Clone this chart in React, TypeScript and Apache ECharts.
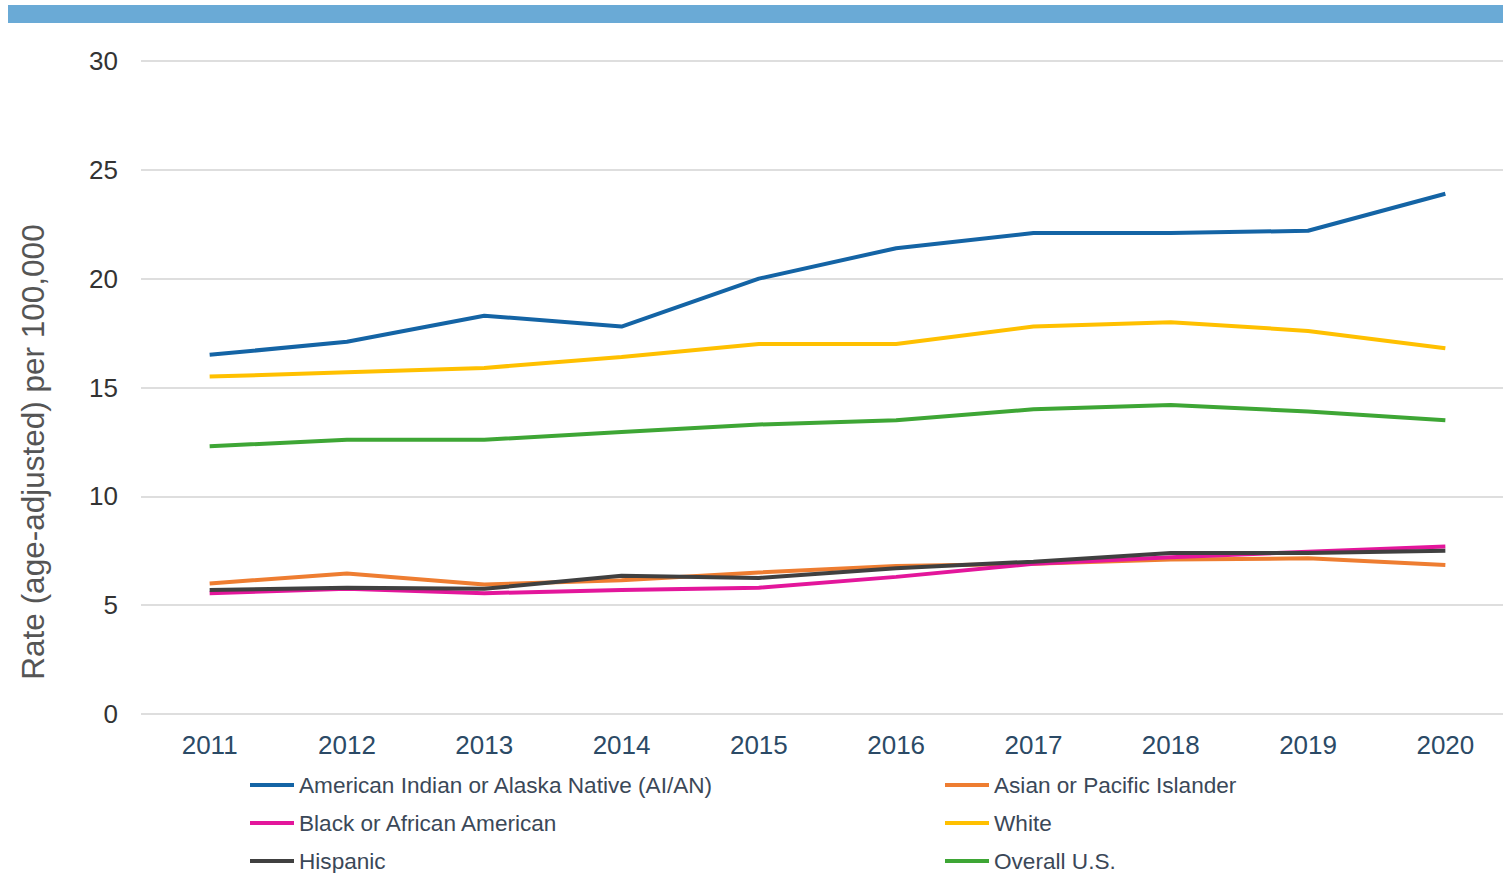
import React, { useEffect, useRef } from "react";
import * as echarts from "echarts";

const years = ["2011", "2012", "2013", "2014", "2015", "2016", "2017", "2018", "2019", "2020"];
const aian = [16.5, 17.1, 18.3, 17.8, 20.0, 21.4, 22.1, 22.1, 22.2, 23.9];
const asian = [6.0, 6.45, 5.95, 6.15, 6.5, 6.8, 6.9, 7.1, 7.15, 6.85];
const black = [5.55, 5.75, 5.55, 5.7, 5.8, 6.3, 6.9, 7.2, 7.45, 7.7];
const white = [15.5, 15.7, 15.9, 16.4, 17.0, 17.0, 17.8, 18.0, 17.6, 16.8];
const hispanic = [5.7, 5.8, 5.75, 6.35, 6.25, 6.7, 7.0, 7.4, 7.4, 7.5];
const overall = [12.3, 12.6, 12.6, 12.95, 13.3, 13.5, 14.0, 14.2, 13.9, 13.5];

const yTicks = { min: 0, max: 30, interval: 5 };

const seriesDefs = [
  { name: "American Indian or Alaska Native (AI/AN)", data: aian, color: "#1464a5" },
  { name: "Asian or Pacific Islander", data: asian, color: "#ee7d31" },
  { name: "Black or African American", data: black, color: "#e3169b" },
  { name: "White", data: white, color: "#ffc000" },
  { name: "Hispanic", data: hispanic, color: "#404040" },
  { name: "Overall U.S.", data: overall, color: "#3ea635" },
];

// legend layout: [series index, column, row]
const legendSlots = [
  [0, 0, 0],
  [2, 0, 1],
  [4, 0, 2],
  [1, 1, 0],
  [3, 1, 1],
  [5, 1, 2],
];

const font = "'Liberation Sans', Arial, sans-serif";

export default function App() {
  const ref = useRef<HTMLDivElement>(null);
  useEffect(() => {
    if (!ref.current) return;
    const chart = echarts.init(ref.current, undefined, { renderer: "svg" });
    const colLeft = [250, 945];
    chart.setOption({
      animation: false,
      backgroundColor: "#ffffff",
      textStyle: { fontFamily: font },
      graphic: [
        { type: "rect", shape: { x: 8, y: 5, width: 1495, height: 18 }, style: { fill: "#6aaad6" } },
        {
          type: "text",
          x: 33,
          y: 452,
          rotation: Math.PI / 2,
          style: {
            text: "Rate (age-adjusted) per 100,000",
            fontFamily: font,
            fontSize: 31.5,
            fill: "#555555",
            align: "center",
            verticalAlign: "middle",
          },
        },
      ],
      legend: legendSlots.map(([si, col, row]) => ({
        orient: "horizontal",
        icon: "rect",
        itemWidth: 44,
        itemHeight: 4,
        padding: 0,
        left: colLeft[col],
        top: 772 + row * 38,
        data: [seriesDefs[si].name],
        textStyle: { fontFamily: font, fontSize: 22.6, color: "#3b4858", lineHeight: 26 },
        selectedMode: false,
      })),
      grid: { left: 141, top: 61, height: 653, width: 1373, containLabel: false },
      xAxis: {
        type: "category",
        data: years,
        boundaryGap: true,
        axisLine: { show: false },
        axisTick: { show: false },
        axisLabel: { fontFamily: font, fontSize: 26, color: "#2b4a66", margin: 18 },
      },
      yAxis: {
        type: "value",
        min: yTicks.min,
        max: yTicks.max,
        interval: yTicks.interval,
        axisLine: { show: false },
        axisTick: { show: false },
        axisLabel: { fontFamily: font, fontSize: 26, color: "#333333", margin: 23 },
        splitLine: { lineStyle: { color: "#dedede", width: 2 } },
      },
      series: seriesDefs.map((s) => ({
        name: s.name,
        type: "line",
        data: s.data,
        symbol: "none",
        smooth: false,
        lineStyle: { color: s.color, width: 4 },
        itemStyle: { color: s.color },
      })),
    });
    return () => chart.dispose();
  }, []);
  return (
    <div style={{ position: "absolute", left: 0, top: 0, width: 1503, height: 873, overflow: "hidden" }}>
      <div ref={ref} style={{ width: 1530, height: 873 }} />
    </div>
  );
}
